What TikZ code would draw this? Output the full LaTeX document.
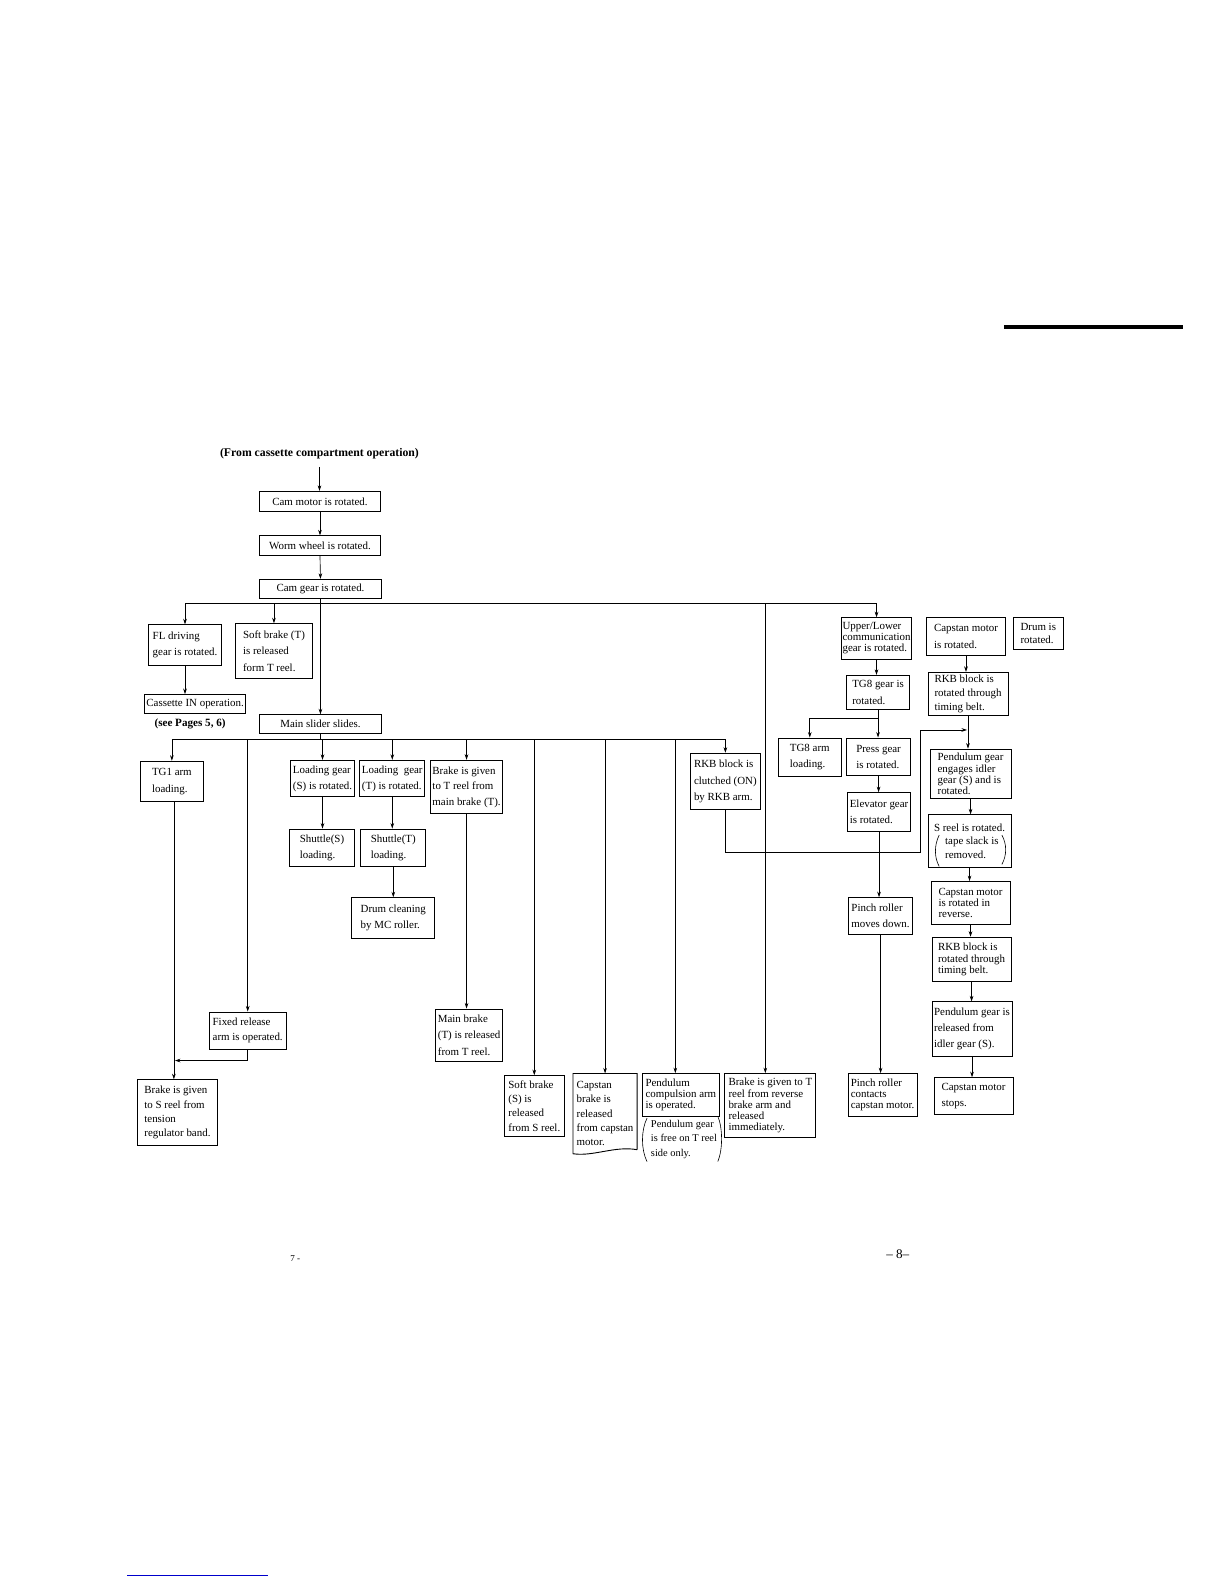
\documentclass[tikz,border=0pt]{standalone}
\usepackage{fontspec}
\setmainfont{Liberation Serif}
\usetikzlibrary{arrows.meta}
\tikzset{
  box/.style={draw, line width=0.9pt, inner sep=0pt, align=left},
  ar/.style={-{Stealth[length=5.5pt,width=3.6pt]}, line width=0.65pt},
  ln/.style={line width=0.65pt},
  paren/.style={line width=0.6pt},
}
\newcommand\bx[7][16]{%
  \pgfmathsetmacro\bxw{#5-#3}%
  \pgfmathsetmacro\bxh{#6-#4}%
  \pgfmathsetmacro\bxcx{(#3+#5)/2}%
  \pgfmathsetmacro\bxcy{(#4+#6)/2}%
  \node[box, minimum width=\bxw pt, minimum height=\bxh pt,
        font=\fontsize{10.8}{#1}\selectfont] (#2) at (\bxcx,\bxcy) {#7};}
\begin{document}
\begin{tikzpicture}[x=1pt,y=-1pt]
\fill[white] (0,0) rectangle (1210.7,1566.8);
\useasboundingbox (0,0) rectangle (1210.7,1566.8);

% decorative page marks
\draw[line width=4pt] (993,323) -- (1170,323);
\draw[blue!80!black, line width=1pt] (126,1558) -- (265,1558);
\node[font=\fontsize{13}{15}\selectfont] (pg) at (888,1241) {– 8–};
\node[font=\fontsize{9}{10}\selectfont] (sev) at (292,1245) {7 -};

% header
\node[font=\bfseries\fontsize{11.6}{13}\selectfont] (hdr) at (316,449) {(From cassette compartment operation)};
\node[font=\bfseries\fontsize{11}{13}\selectfont] (see) at (188,716) {(see Pages 5, 6)};

% main column
\bx{cm}{257}{486}{376}{506}{Cam motor is rotated.}
\bx{ww}{257}{530}{376}{549}{Worm wheel is rotated.}
\bx{cg}{257}{573}{377}{592}{Cam gear is rotated.}
\bx{fl}{147}{618}{219}{658}{FL driving\\gear is rotated.}
\bx{sT}{233}{617}{309}{671}{Soft brake (T)\\is released\\form T reel.}
\bx{cin}{143}{687}{243}{706}{Cassette IN operation.}
\bx{ms}{257}{707}{377}{725}{Main slider slides.}

\bx{tg1}{139}{753}{201}{793}{TG1 arm\\loading.}
\bx{loadS}{287}{752}{351}{788}{Loading gear\\(S) is rotated.}
\bx{loadT}{356}{752}{420}{788}{Loading\ \ gear\\(T) is rotated.}
\bx[15.5]{brT}{426}{752}{497}{805}{Brake is given\\to T reel from\\main brake (T).}
\bx{shS}{286}{820}{351}{857}{Shuttle(S)\\loading.}
\bx{shT}{357}{820}{421}{857}{Shuttle(T)\\loading.}
\bx{dc}{348}{888}{430}{928}{Drum cleaning\\by MC roller.}
\bx[15]{fx}{207}{1001}{283}{1038}{Fixed release\\arm is operated.}
\bx{mb}{431}{998}{497}{1050}{Main brake\\(T) is released\\from T reel.}
\bx[14]{bS}{136}{1068}{215}{1133}{Brake is given\\to S reel from\\tension\\regulator band.}
\bx[14]{softS}{499}{1064}{558}{1124}{Soft brake\\(S) is\\released\\from S reel.}
\node[inner sep=0pt, minimum width=63pt, minimum height=79pt, align=left,
      font=\fontsize{10.8}{14}\selectfont] (cb) at (598.5,1101.5)
      {Capstan\\brake is\\released\\from capstan\\motor.};
\draw[line width=0.9pt] ([yshift=4pt]cb.south east) -- (cb.north east) -- (cb.north west) -- (cb.south west)
   .. controls +(20,3) and +(-22,-4) .. ([yshift=4pt]cb.south east);
\bx[11]{pc}{635}{1062}{712}{1104}{Pendulum\\compulsion arm\\is operated.}
\node[inner sep=0pt, align=left, font=\fontsize{10.3}{14}\selectfont] (pgn) at (676.5,1127)
  {Pendulum gear\\is free on T reel\\side only.};
\draw[paren] (640,1106) .. controls (634,1118) and (634,1137) .. (640,1149);
\draw[paren] (710,1104) .. controls (715,1116) and (715,1137) .. (710,1149);
\bx[11]{brR}{717}{1062}{807}{1125}{Brake is given to T\\reel from reverse\\brake arm and\\released\\immediately.}
\bx{rkbc}{683}{745}{752}{801}{RKB block is\\clutched (ON)\\by RKB arm.}

% right part
\bx[11]{ul}{832}{611}{902}{652}{Upper/Lower\\communication\\gear is rotated.}
\bx{cmr}{916}{611}{995}{648}{Capstan motor\\is rotated.}
\bx[13]{dr}{1002}{611}{1052}{642}{Drum is\\rotated.}
\bx{tg8g}{837}{668}{900}{702}{TG8 gear is\\rotated.}
\bx[14]{rkb1}{918}{665}{997}{708}{RKB block is\\rotated through\\timing belt.}
\bx{tg8a}{770}{730}{832}{768}{TG8 arm\\loading.}
\bx{pr}{837}{730}{901}{767}{Press gear\\is rotated.}
\bx[11]{pe}{920}{741}{1000}{790}{Pendulum gear\\engages idler\\gear (S) and is\\rotated.}
\bx{el}{838}{784}{901}{822}{Elevator gear\\is rotated.}
\bx[13.5]{sr}{918}{806}{1000}{858}{S reel is rotated.\\\hspace*{11pt}tape slack is\\\hspace*{11pt}removed.}
\draw[paren] (929,826) .. controls (924,836) and (924,848) .. (929,857);
\draw[paren] (991,826) .. controls (996,835) and (996,846) .. (991,855);
\bx[11]{crv}{921}{872}{999}{914}{Capstan motor\\is rotated in\\reverse.}
\bx[11]{rkb2}{922}{927}{1000}{971}{RKB block is\\rotated through\\timing belt.}
\bx{prl}{922}{991}{1001}{1045}{Pendulum gear is\\released from\\idler gear (S).}
\bx{cst}{924}{1066}{1002}{1102}{Capstan motor\\stops.}
\bx{pd}{839}{888}{903}{924}{Pinch roller\\moves down.}
\bx[11]{pcn}{839}{1062}{907}{1104}{Pinch roller\\contacts\\capstan motor.}

% connectors: main column
\draw[ar, shorten <=4pt] (hdr.south) -- (hdr.south |- cm.north);
\draw[ar] (cm.south) -- (ww.north);
\draw[ar] (ww.south) -- (cg.north);
\draw[ar] (cg.south) -- (ms.north);

% bus 1
\coordinate (b1) at (0,597);
\coordinate (d757) at (757,597);
\draw[ln] (fl.north |- b1) -- (ul.north |- b1);
\draw[ar] (fl.north |- b1) -- (fl.north);
\draw[ar] (sT.north |- b1) -- (sT.north);
\draw[ar] (d757) -- (d757 |- brR.north);
\draw[ar] (ul.north |- b1) -- (ul.north);
\draw[ar] (fl.south) -- (fl.south |- cin.north);

% bus 2
\coordinate (b2) at (0,731);
\coordinate (d668) at (668,731);
\draw[ln] (ms.south) -- (ms.south |- b2);
\draw[ln] (tg1.north |- b2) -- (rkbc.north |- b2);
\draw[ar] (tg1.north |- b2) -- (tg1.north);
\draw[ar] (fx.north |- b2) -- (fx.north);
\draw[ar] (loadS.north |- b2) -- (loadS.north);
\draw[ar] (loadT.north |- b2) -- (loadT.north);
\draw[ar] (brT.north |- b2) -- (brT.north);
\draw[ar] (softS.north |- b2) -- (softS.north);
\draw[ar] (cb.north |- b2) -- (cb.north);
\draw[ar] (d668) -- (d668 |- pc.north);
\draw[ar] (rkbc.north |- b2) -- (rkbc.north);

\draw[ar] (loadS.south) -- (loadS.south |- shS.north);
\draw[ar] (loadT.south) -- (loadT.south |- shT.north);
\draw[ar] (shT.south) -- (shT.south |- dc.north);
\draw[ar] (brT.south) -- (brT.south |- mb.north);
\draw[ar] ([xshift=2pt]tg1.south) -- ([xshift=2pt]tg1.south |- bS.north);
\coordinate (fj) at (0,1049);
\draw[ar] (fx.south) -- (fx.south |- fj) -- ([xshift=3pt]tg1.south |- fj);

% RKB clutch loop
\coordinate (r1) at (910,843);
\coordinate (r2) at (910,722);
\draw[ar] (rkbc.south) -- (rkbc.south |- r1) -- (r1) -- (r2) -- ([xshift=-1pt]rkb1.south |- r2);

% right part
\draw[ar] (ul.south) -- (ul.south |- tg8g.north);
\coordinate (tj) at (0,711);
\draw[ln] (tg8g.south) -- (tg8g.south |- tj);
\draw[ar] (tg8g.south |- tj) -- (tg8g.south |- pr.north);
\draw[ar] (tg8g.south |- tj) -| (tg8a.north);
\draw[ar] (pr.south) -- (pr.south |- el.north);
\draw[ar] (el.south) -- (el.south |- pd.north);
\draw[ar] (pd.south) -- (pd.south |- pcn.north);

\draw[ar] (cmr.south) -- (cmr.south |- rkb1.north);
\draw[ar] (rkb1.south) -- (rkb1.south |- pe.north);
\draw[ar] (pe.south) -- (pe.south |- sr.north);
\draw[ar] (sr.south) -- (sr.south |- crv.north);
\draw[ar] (crv.south) -- (crv.south |- rkb2.north);
\draw[ar] (rkb2.south) -- (rkb2.south |- prl.north);
\draw[ar] (prl.south) -- (prl.south |- cst.north);
\end{tikzpicture}
\end{document}
